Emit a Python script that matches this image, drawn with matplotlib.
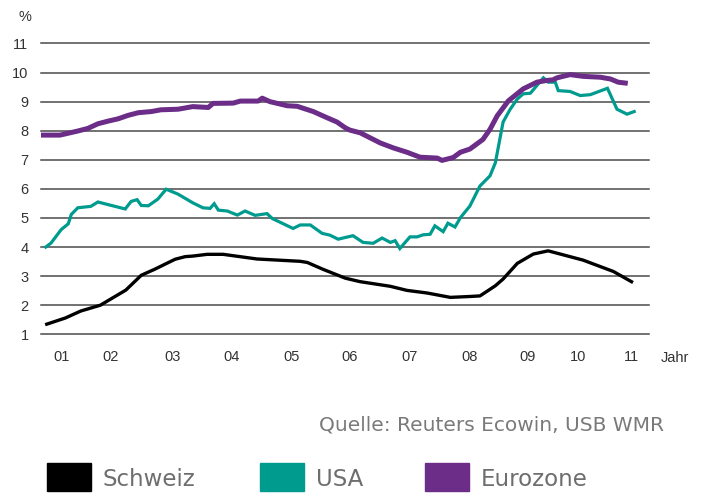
import matplotlib
matplotlib.use("Agg")
import matplotlib.pyplot as plt
from matplotlib.patches import Rectangle

# --- DATEN (x = Jahr ab 2000, y = Rendite in %) ---
schweiz_x = [1.36, 1.70, 1.96, 2.29, 2.72, 2.98, 3.21, 3.55, 3.72, 3.85, 4.09, 4.36,
             4.93, 5.66, 5.78, 6.05, 6.42, 6.67, 7.18, 7.46, 7.80, 8.19, 8.52, 8.69,
             8.81, 8.95, 9.08, 9.32, 9.59, 9.84, 10.43, 10.94, 11.27]
schweiz_y = [1.33, 1.56, 1.80, 2.00, 2.52, 3.03, 3.24, 3.58, 3.67, 3.69, 3.75, 3.75,
             3.59, 3.51, 3.47, 3.23, 2.93, 2.81, 2.65, 2.51, 2.42, 2.27, 2.30, 2.32,
             2.48, 2.67, 2.90, 3.44, 3.76, 3.87, 3.55, 3.16, 2.78]

usa_x = [1.37, 1.46, 1.63, 1.75, 1.80, 1.91, 2.13, 2.25, 2.42, 2.71, 2.81, 2.91,
         2.98, 3.10, 3.26, 3.40, 3.60, 3.85, 4.02, 4.14, 4.21, 4.28, 4.43, 4.60,
         4.73, 4.90, 5.10, 5.19, 5.54, 5.66, 5.83, 6.03, 6.16, 6.30, 6.42, 6.55,
         6.72, 6.89, 7.04, 7.18, 7.26, 7.34, 7.51, 7.63, 7.73, 7.85, 7.93, 8.07,
         8.15, 8.27, 8.36, 8.52, 8.69, 8.86, 8.95, 9.08, 9.20, 9.32, 9.42, 9.54,
         9.76, 9.84, 9.96, 10.01, 10.21, 10.38, 10.55, 10.84, 11.00, 11.17, 11.29]
usa_y = [4.00, 4.14, 4.60, 4.80, 5.12, 5.35, 5.40, 5.55, 5.46, 5.31, 5.57, 5.63,
         5.43, 5.42, 5.65, 5.99, 5.82, 5.52, 5.35, 5.33, 5.49, 5.27, 5.24, 5.10,
         5.24, 5.09, 5.15, 4.98, 4.64, 4.76, 4.76, 4.47, 4.41, 4.27, 4.33, 4.39,
         4.16, 4.13, 4.31, 4.16, 4.22, 3.95, 4.35, 4.35, 4.42, 4.44, 4.73, 4.53,
         4.82, 4.69, 5.01, 5.41, 6.10, 6.45, 6.90, 8.30, 8.74, 9.09, 9.27, 9.29,
         9.82, 9.67, 9.67, 9.38, 9.35, 9.21, 9.24, 9.46, 8.74, 8.57, 8.66]

euro_x = [1.29, 1.61, 1.91, 2.08, 2.25, 2.42, 2.59, 2.76, 2.93, 3.15, 3.31, 3.60,
          3.85, 4.11, 4.19, 4.53, 4.65, 4.95, 5.02, 5.15, 5.44, 5.61, 5.88, 6.11,
          6.28, 6.42, 6.50, 6.67, 7.01, 7.23, 7.46, 7.68, 7.97, 8.05, 8.24, 8.36,
          8.52, 8.74, 8.86, 8.98, 9.17, 9.42, 9.65, 9.82, 9.92, 9.99, 10.21, 10.43,
          10.72, 10.89, 11.02, 11.14]
euro_y = [7.85, 7.85, 7.99, 8.08, 8.24, 8.33, 8.41, 8.53, 8.62, 8.66, 8.72, 8.74,
          8.83, 8.80, 8.94, 8.95, 9.02, 9.02, 9.12, 9.00, 8.86, 8.84, 8.66, 8.45,
          8.30, 8.10, 8.02, 7.93, 7.58, 7.41, 7.26, 7.09, 7.06, 6.98, 7.08, 7.26,
          7.37, 7.70, 8.05, 8.51, 9.03, 9.44, 9.67, 9.73, 9.75, 9.82, 9.93, 9.87,
          9.84, 9.78, 9.67, 9.64]

jahr_labels = ["01", "02", "03", "04", "05", "06", "07", "08", "09", "10", "11"]
jahr_pos = [1.64, 2.47, 3.50, 4.51, 5.51, 6.50, 7.51, 8.51, 9.50, 10.35, 11.24]
y_ticks = list(range(1, 12))

serien = ["Schweiz", "USA", "Eurozone"]
farben = ["#000000", "#009B8F", "#6B2D87"]

W, H = 704, 494
fig = plt.figure(figsize=(W / 100, H / 100), dpi=100)
ax = fig.add_axes([41 / W, 1 - 334.3 / H, (649 - 41) / W, (334.3 - 43.5) / H])

for v in y_ticks:
    ax.axhline(v, color="#4a4a4a", lw=1.1, zorder=1, clip_on=False)

ax.plot(schweiz_x, schweiz_y, color=farben[0], lw=2.4, solid_capstyle="butt", zorder=3)
ax.plot(usa_x, usa_y, color=farben[1], lw=2.3, solid_joinstyle="miter", zorder=3)
ax.plot(euro_x, euro_y, color=farben[2], lw=3.6, zorder=4)

ax.set_xlim(1.29, 11.54)
ax.set_ylim(1, 11)
for s in ax.spines.values():
    s.set_visible(False)

schrift = "Liberation Sans"
ax.set_yticks(y_ticks)
ax.set_yticklabels([str(v) for v in y_ticks], fontsize=10.5, color="#333333", family=schrift)
ax.set_xticks(jahr_pos)
ax.set_xticklabels(jahr_labels, fontsize=10.5, color="#333333", family=schrift)
ax.tick_params(axis="y", length=0, pad=9)
ax.tick_params(axis="x", length=0, pad=11)

fig.text(25 / W, 1 - 17 / H, "%", fontsize=10.5, color="#333333", family=schrift,
         ha="center", va="center")
fig.text(675 / W, 1 - 358 / H, "Jahr", fontsize=10.5, color="#333333", family=schrift,
         ha="center", va="center")

# Quelle + Legende
schmal = "DejaVu Sans"
fig.text(664 / W, 1 - 425 / H, "Quelle: Reuters Ecowin, USB WMR", fontsize=14.5,
         color="#7a7a7a", family=schmal, ha="right", va="center")

legende_x = [47, 260, 425]
for name, farbe, lx in zip(serien, farben, legende_x):
    fig.add_artist(Rectangle((lx / W, 1 - 491 / H), 44 / W, 28 / H,
                             transform=fig.transFigure, color=farbe))
    fig.text((lx + 56) / W, 1 - 479 / H, name, fontsize=16.5, color="#6e6e6e",
             family=schmal, ha="left", va="center")

fig.savefig("out.png", dpi=100)
